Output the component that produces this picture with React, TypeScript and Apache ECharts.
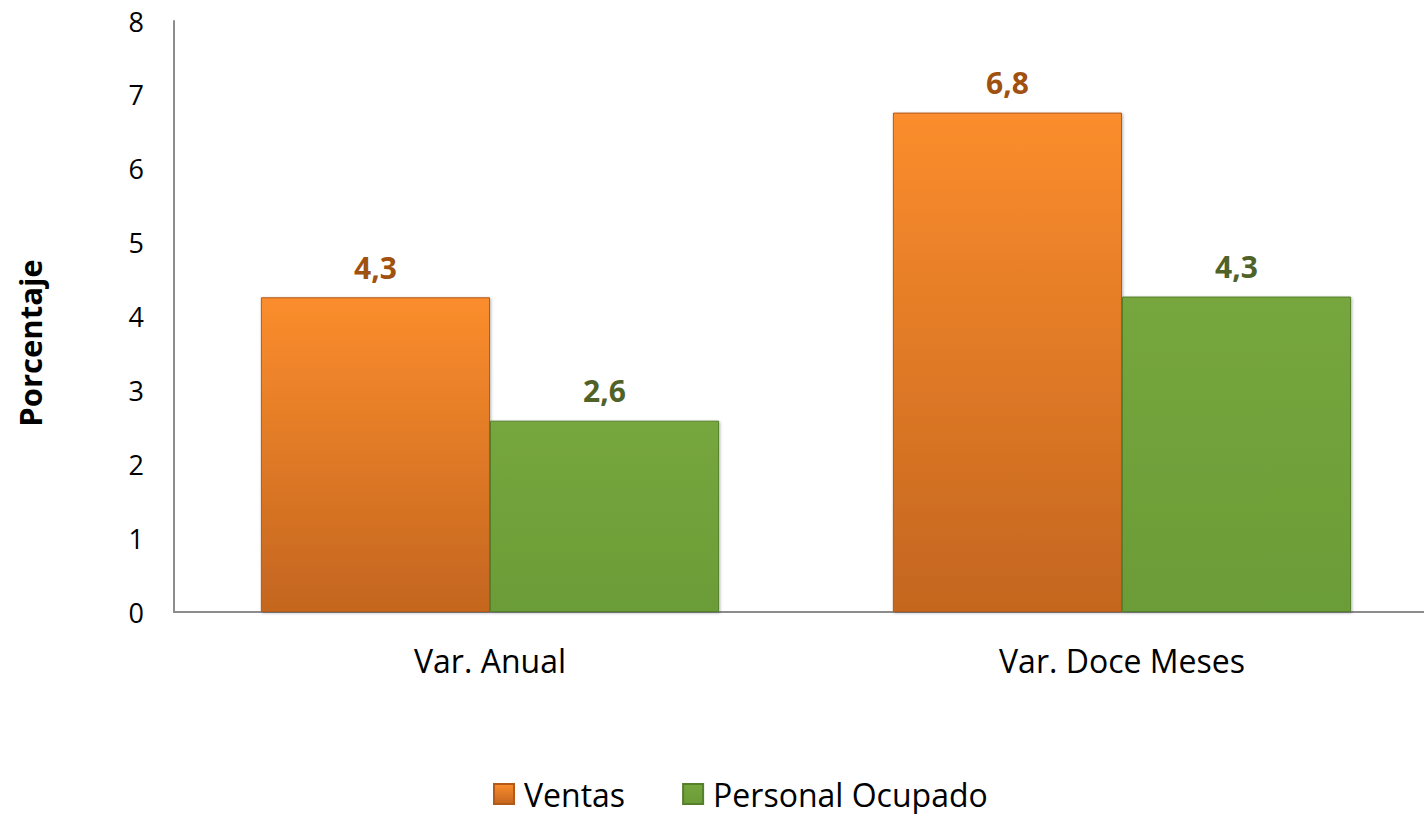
import React, { useEffect, useRef } from "react";
import * as echarts from "echarts";

const categories = ["Var. Anual", "Var. Doce Meses"];
const ventas = [4.26, 6.76];
const personalOcupado = [2.59, 4.27];
const yTicks = [0, 1, 2, 3, 4, 5, 6, 7, 8];

const FONT = "'Open Sans', Lato, sans-serif";

export default function App() {
  const ref = useRef<HTMLDivElement>(null);
  useEffect(() => {
    if (!ref.current) return;
    const chart = echarts.init(ref.current, undefined, { renderer: "svg" });
    const fmt = (p: any) => Number(p.value).toFixed(1).replace(".", ",");
    chart.setOption({
      animation: false,
      textStyle: { fontFamily: FONT },
      grid: { left: 174, right: 0, top: 21, bottom: 202 },
      xAxis: {
        type: "category",
        data: categories,
        axisLine: { lineStyle: { color: "#8c8c8c", width: 2 } },
        axisTick: { show: false },
        axisLabel: { color: "#000", fontSize: 32, margin: 32, fontFamily: FONT },
      },
      yAxis: {
        type: "value",
        min: yTicks[0],
        max: yTicks[yTicks.length - 1],
        interval: 1,
        axisLine: { show: true, lineStyle: { color: "#8c8c8c", width: 2 } },
        axisTick: { show: false },
        splitLine: { show: false },
        axisLabel: { color: "#000", fontSize: 27, margin: 30, fontFamily: FONT },
      },
      legend: {
        top: 773,
        left: 488,
        icon: "rect",
        itemWidth: 20,
        itemHeight: 20,
        itemGap: 57,
        textStyle: { fontSize: 32, color: "#000", fontFamily: FONT, padding: [0, 0, 0, 5] },
        data: ["Ventas", "Personal Ocupado"],
      },
      graphic: [
        {
          type: "text",
          x: 30,
          y: 343,
          rotation: Math.PI / 2,
          style: {
            text: "Porcentaje",
            fontSize: 31,
            fontWeight: "bold",
            fontFamily: FONT,
            fill: "#000",
            textAlign: "center",
            textVerticalAlign: "middle",
          },
        },
      ],
      series: [
        {
          name: "Ventas",
          type: "bar",
          data: ventas,
          barGap: "0%",
          barCategoryGap: "27.5%",
          itemStyle: {
            color: new echarts.graphic.LinearGradient(0, 0, 0, 1, [
              { offset: 0, color: "#fb8d2d" },
              { offset: 1, color: "#c4661f" },
            ]),
            borderColor: "#b35a1a",
            borderWidth: 1,
            shadowColor: "rgba(0,0,0,0.3)",
            shadowBlur: 3,
            shadowOffsetX: 1,
            shadowOffsetY: 1,
          },
          label: {
            show: true,
            position: "top",
            distance: 15,
            formatter: fmt,
            fontSize: 30,
            fontWeight: "bold",
            color: "#a0500f",
            fontFamily: FONT,
          },
        },
        {
          name: "Personal Ocupado",
          type: "bar",
          data: personalOcupado,
          itemStyle: {
            color: new echarts.graphic.LinearGradient(0, 0, 0, 1, [
              { offset: 0, color: "#76a63d" },
              { offset: 1, color: "#6b9c37" },
            ]),
            borderColor: "#557f2a",
            borderWidth: 1,
            shadowColor: "rgba(0,0,0,0.3)",
            shadowBlur: 3,
            shadowOffsetX: 1,
            shadowOffsetY: 1,
          },
          label: {
            show: true,
            position: "top",
            distance: 15,
            formatter: fmt,
            fontSize: 30,
            fontWeight: "bold",
            color: "#4f6228",
            fontFamily: FONT,
          },
        },
      ],
    });
    return () => chart.dispose();
  }, []);
  return (
    <div
      style={{
        position: "fixed",
        left: 0,
        top: 0,
        width: 1424,
        height: 814,
        overflow: "hidden",
        background: "#fff",
      }}
    >
      <div ref={ref} style={{ width: 1438, height: 814 }} />
    </div>
  );
}
